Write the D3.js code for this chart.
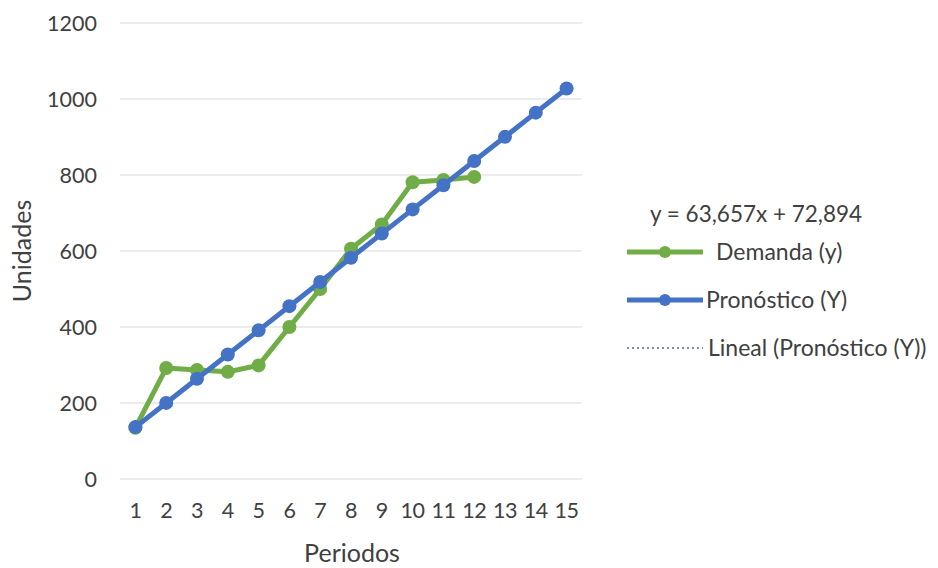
<!DOCTYPE html>
<html>
<head>
<meta charset="utf-8">
<script src="https://cdn.jsdelivr.net/npm/d3@7"></script>
<style>
  html, body { margin: 0; padding: 0; background: #fff; }
  svg text { font-family: Lato, "Open Sans", sans-serif; fill: #404040; }
</style>
</head>
<body>
<svg id="chart" width="938" height="568"></svg>
<script>
// Periods and series
const periods = [1, 2, 3, 4, 5, 6, 7, 8, 9, 10, 11, 12, 13, 14, 15];
const demanda = [135, 292, 287, 282, 299, 400, 500, 606, 670, 781, 787, 795];
const slope = 63.657;
const intercept = 72.894;
const pronostico = periods.map(p => slope * p + intercept);
const yTicks = [0, 200, 400, 600, 800, 1000, 1200];

const colors = { demanda: "#70ad47", pronostico: "#4472c4", trend: "#6f8fd0", grid: "#d9d9d9" };

const svg = d3.select("#chart");
const plot = { left: 120, right: 582, top: 23, bottom: 479 };

const x = d3.scaleBand().domain(periods).range([plot.left, plot.right]);
const y = d3.scaleLinear().domain([0, 1200]).range([plot.bottom, plot.top]);
const cx = p => x(p) + x.bandwidth() / 2;

// Gridlines
svg.append("g").selectAll("line").data(yTicks).join("line")
  .attr("x1", plot.left).attr("x2", plot.right)
  .attr("y1", d => y(d)).attr("y2", d => y(d))
  .attr("stroke", colors.grid).attr("stroke-width", 1.2);

// Y axis labels
svg.append("g").selectAll("text").data(yTicks).join("text")
  .attr("x", 97).attr("y", d => y(d)).attr("dy", "0.36em")
  .attr("text-anchor", "end").style("font-size", "21.5px")
  .text(d => d);

// X axis labels
svg.append("g").selectAll("text").data(periods).join("text")
  .attr("x", d => cx(d)).attr("y", 510).attr("dy", "0.36em")
  .attr("text-anchor", "middle").style("font-size", "21.5px")
  .style("letter-spacing", "-0.5px")
  .text(d => d);

// Axis titles
svg.append("text").attr("x", 352).attr("y", 553).attr("dy", "0.36em")
  .attr("text-anchor", "middle").style("font-size", "25px").text("Periodos");
svg.append("text")
  .attr("transform", `translate(22,251) rotate(-90)`).attr("dy", "0.36em")
  .attr("text-anchor", "middle").style("font-size", "25px").text("Unidades");

const line = d3.line().x(d => cx(d.p)).y(d => y(d.v));

function series(values, color) {
  const pts = values.map((v, i) => ({ p: periods[i], v }));
  const g = svg.append("g");
  g.append("path").datum(pts).attr("d", line)
    .attr("fill", "none").attr("stroke", color)
    .attr("stroke-width", 5).attr("stroke-linejoin", "round");
  g.selectAll("circle").data(pts).join("circle")
    .attr("cx", d => cx(d.p)).attr("cy", d => y(d.v)).attr("r", 7)
    .attr("fill", color);
}

series(demanda, colors.demanda);

// Linear trendline of the forecast
const trendPts = [periods[0], periods[periods.length - 1]].map(p => ({ p, v: slope * p + intercept }));
svg.append("path").datum(trendPts).attr("d", line)
  .attr("fill", "none").attr("stroke", colors.trend)
  .attr("stroke-width", 2).attr("stroke-dasharray", "2,3");

series(pronostico, colors.pronostico);

// Legend
svg.append("text").attr("x", 650).attr("y", 214).attr("dy", "0.36em")
  .style("font-size", "22.5px").text("y = 63,657x + 72,894");

const legend = [
  { label: "Demanda (y)", color: colors.demanda, y: 252, tx: 716, kind: "marker" },
  { label: "Pronóstico (Y)", color: colors.pronostico, y: 300, tx: 706, kind: "marker" },
  { label: "Lineal (Pronóstico (Y))", color: colors.trend, y: 348, tx: 708, kind: "dotted" }
];
const lg = svg.append("g").selectAll("g").data(legend).join("g");
lg.append("line")
  .attr("x1", 627).attr("x2", 703).attr("y1", d => d.y).attr("y2", d => d.y)
  .attr("stroke", d => d.color)
  .attr("stroke-width", d => d.kind === "dotted" ? 2 : 5)
  .attr("stroke-dasharray", d => d.kind === "dotted" ? "2,3" : null);
lg.filter(d => d.kind === "marker").append("circle")
  .attr("cx", 665).attr("cy", d => d.y).attr("r", 6).attr("fill", d => d.color);
lg.append("text").attr("x", d => d.tx).attr("y", d => d.y).attr("dy", "0.36em")
  .style("font-size", "23px").text(d => d.label);
</script>
</body>
</html>
